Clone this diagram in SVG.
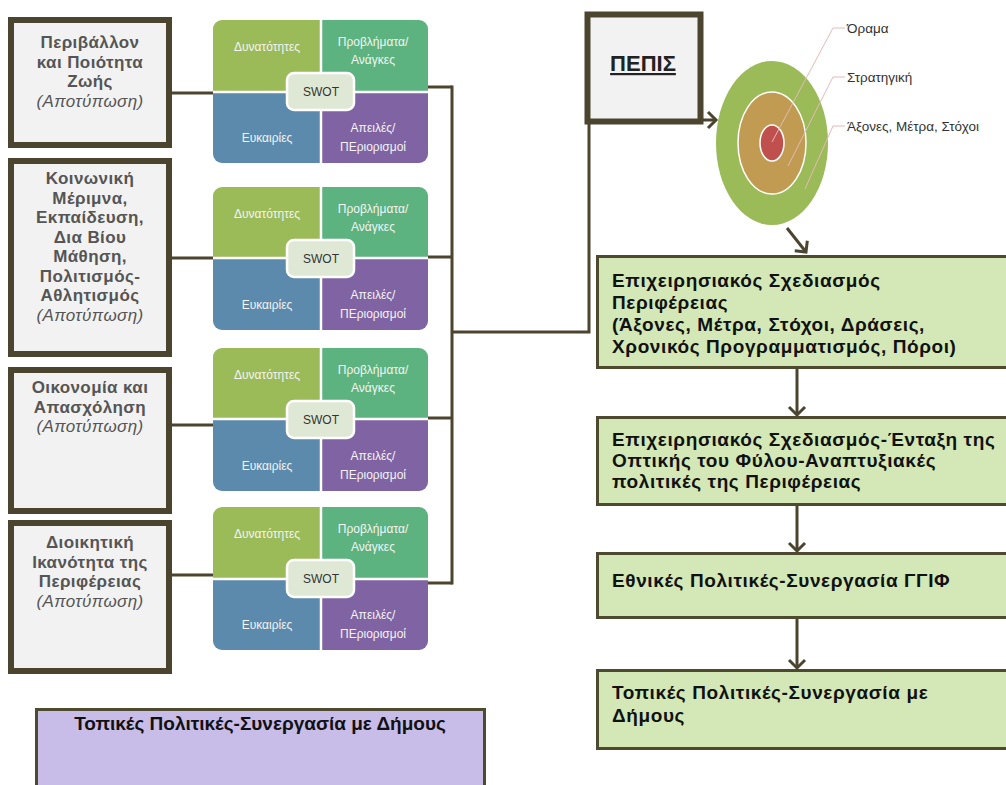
<svg xmlns="http://www.w3.org/2000/svg" width="1006" height="785" viewBox="0 0 1006 785">
<style>
.lbox{fill:#f2f2f2;stroke:#4b4530;stroke-width:6}
.lt{font-family:"Liberation Sans",Arial,sans-serif;font-size:17px;font-weight:bold;fill:#555;text-anchor:middle;letter-spacing:0.4px}
.lt .it{font-weight:normal;font-style:italic}
.con{fill:none;stroke:#4b4530;stroke-width:3}
.arr{fill:none;stroke:#4b4530;stroke-width:3;stroke-linejoin:miter}
.q1{fill:#9bbb59}.q2{fill:#5cb37f}.q3{fill:#5b8aac}.q4{fill:#8063a2}
.div{stroke:#fff;stroke-width:2.5}
.qt{font-family:"Liberation Sans",Arial,sans-serif;font-size:12px;fill:#f4f4f4;text-anchor:middle}
.sw{fill:#dfe8d4;stroke:#fff;stroke-width:2.5}
.swt{font-family:"Liberation Sans",Arial,sans-serif;font-size:12px;fill:#333;text-anchor:middle}
.gbox{fill:#d3e8b6;stroke:#4e4a30;stroke-width:3}
.gt{font-family:"Liberation Sans",Arial,sans-serif;font-size:19px;font-weight:bold;fill:#111;letter-spacing:0.6px}
.tl{font-family:"Liberation Sans",Arial,sans-serif;font-size:13.5px;fill:#333}
.lead{fill:none;stroke:#e6b9b8;stroke-width:1}
</style>
<defs>
<clipPath id="rc"><rect x="0" y="0" width="215" height="143" rx="9"/></clipPath>
<marker id="chev" markerWidth="20" markerHeight="20" refX="10" refY="10" orient="auto" markerUnits="userSpaceOnUse" viewBox="0 0 20 20">
<path d="M2,2 L10,10 L2,18" fill="none" stroke="#4b4530" stroke-width="3"/>
</marker>
</defs>

<g id="box-env">
<rect class="lbox" x="11" y="20" width="158" height="125"/>
<text class="lt"><tspan x="90" y="48">Περιβάλλον</tspan><tspan x="90" y="67.5">και Ποιότητα</tspan><tspan x="90" y="87">Ζωής</tspan><tspan class="it" x="90" y="106.5">(Αποτύπωση)</tspan></text>
</g>
<g id="box-social">
<rect class="lbox" x="11" y="161" width="158" height="193"/>
<text class="lt"><tspan x="90" y="184">Κοινωνική</tspan><tspan x="90" y="203.5">Μέριμνα,</tspan><tspan x="90" y="223">Εκπαίδευση,</tspan><tspan x="90" y="242.5">Δια Βίου</tspan><tspan x="90" y="262">Μάθηση,</tspan><tspan x="90" y="281.5">Πολιτισμός-</tspan><tspan x="90" y="301">Αθλητισμός</tspan><tspan class="it" x="90" y="320.5">(Αποτύπωση)</tspan></text>
</g>
<g id="box-econ">
<rect class="lbox" x="11" y="370" width="158" height="141"/>
<text class="lt"><tspan x="90" y="393">Οικονομία και</tspan><tspan x="90" y="412.5">Απασχόληση</tspan><tspan class="it" x="90" y="432">(Αποτύπωση)</tspan></text>
</g>
<g id="box-admin">
<rect class="lbox" x="11" y="523" width="158" height="148"/>
<text class="lt"><tspan x="90" y="548">Διοικητική</tspan><tspan x="90" y="567.5">Ικανότητα της</tspan><tspan x="90" y="587">Περιφέρειας</tspan><tspan class="it" x="90" y="606.5">(Αποτύπωση)</tspan></text>
</g>

<g id="swot-1" transform="translate(213,20)">
<g clip-path="url(#rc)"><rect class="q1" x="0" y="0" width="108" height="72"/><rect class="q2" x="108" y="0" width="107" height="72"/><rect class="q3" x="0" y="72" width="108" height="71"/><rect class="q4" x="108" y="72" width="107" height="71"/></g>
<line class="div" x1="108" y1="0" x2="108" y2="143"/><line class="div" x1="0" y1="72" x2="215" y2="72"/>
<text class="qt" x="54" y="31">Δυνατότητες</text><text class="qt"><tspan x="160" y="26">Προβλήματα/</tspan><tspan x="160" y="44">Ανάγκες</tspan></text>
<text class="qt" x="54" y="122">Ευκαιρίες</text><text class="qt"><tspan x="160" y="112">Απειλές/</tspan><tspan x="160" y="131">ΠΕριορισμοί</tspan></text>
<rect class="sw" x="74" y="53" width="67" height="37" rx="7"/><text class="swt" x="108" y="76">SWOT</text>
</g>
<g id="swot-2" transform="translate(213,187)">
<g clip-path="url(#rc)"><rect class="q1" x="0" y="0" width="108" height="71"/><rect class="q2" x="108" y="0" width="107" height="71"/><rect class="q3" x="0" y="71" width="108" height="72"/><rect class="q4" x="108" y="71" width="107" height="72"/></g>
<line class="div" x1="108" y1="0" x2="108" y2="143"/><line class="div" x1="0" y1="71" x2="215" y2="71"/>
<text class="qt" x="54" y="31">Δυνατότητες</text><text class="qt"><tspan x="160" y="26">Προβλήματα/</tspan><tspan x="160" y="44">Ανάγκες</tspan></text>
<text class="qt" x="54" y="122">Ευκαιρίες</text><text class="qt"><tspan x="160" y="112">Απειλές/</tspan><tspan x="160" y="131">ΠΕριορισμοί</tspan></text>
<rect class="sw" x="74" y="53" width="67" height="37" rx="7"/><text class="swt" x="108" y="76">SWOT</text>
</g>
<g id="swot-3" transform="translate(213,348)">
<g clip-path="url(#rc)"><rect class="q1" x="0" y="0" width="108" height="71"/><rect class="q2" x="108" y="0" width="107" height="71"/><rect class="q3" x="0" y="71" width="108" height="72"/><rect class="q4" x="108" y="71" width="107" height="72"/></g>
<line class="div" x1="108" y1="0" x2="108" y2="143"/><line class="div" x1="0" y1="71" x2="215" y2="71"/>
<text class="qt" x="54" y="31">Δυνατότητες</text><text class="qt"><tspan x="160" y="26">Προβλήματα/</tspan><tspan x="160" y="44">Ανάγκες</tspan></text>
<text class="qt" x="54" y="122">Ευκαιρίες</text><text class="qt"><tspan x="160" y="112">Απειλές/</tspan><tspan x="160" y="131">ΠΕριορισμοί</tspan></text>
<rect class="sw" x="74" y="53" width="67" height="37" rx="7"/><text class="swt" x="108" y="76">SWOT</text>
</g>
<g id="swot-4" transform="translate(213,507)">
<g clip-path="url(#rc)"><rect class="q1" x="0" y="0" width="108" height="72"/><rect class="q2" x="108" y="0" width="107" height="72"/><rect class="q3" x="0" y="72" width="108" height="71"/><rect class="q4" x="108" y="72" width="107" height="71"/></g>
<line class="div" x1="108" y1="0" x2="108" y2="143"/><line class="div" x1="0" y1="72" x2="215" y2="72"/>
<text class="qt" x="54" y="31">Δυνατότητες</text><text class="qt"><tspan x="160" y="26">Προβλήματα/</tspan><tspan x="160" y="44">Ανάγκες</tspan></text>
<text class="qt" x="54" y="122">Ευκαιρίες</text><text class="qt"><tspan x="160" y="112">Απειλές/</tspan><tspan x="160" y="131">ΠΕριορισμοί</tspan></text>
<rect class="sw" x="74" y="53" width="67" height="37" rx="7"/><text class="swt" x="108" y="76">SWOT</text>
</g>

<g id="pepis">
<rect class="lbox" x="587.5" y="14.5" width="113" height="107" stroke-width="5"/>
<text x="643" y="71" font-family="Liberation Sans,Arial,sans-serif" font-size="22" font-weight="bold" fill="#222" text-anchor="middle" text-decoration="underline">ΠΕΠΙΣ</text>
</g>

<g id="target">
<ellipse cx="772" cy="143" rx="56" ry="82" fill="#9bbb59"/>
<ellipse cx="772" cy="143" rx="34" ry="51" fill="#c19b51" stroke="#fff" stroke-width="1.5"/>
<ellipse cx="772" cy="143" rx="12" ry="18" fill="#c0504d" stroke="#fff" stroke-width="1.5"/>
<polyline class="lead" points="845,28 833,28 772,142"/>
<polyline class="lead" points="845,77 833,77 788,166"/>
<polyline class="lead" points="845,126 833,126 805,189"/>
<text class="tl" x="847" y="33">Όραμα</text>
<text class="tl" x="847" y="82">Στρατηγική</text>
<text class="tl" x="847" y="131">Άξονες, Μέτρα, Στόχοι</text>
</g>

<g id="op-plan">
<rect class="gbox" x="597.5" y="256.5" width="420" height="111"/>
<text class="gt"><tspan x="612" y="287">Επιχειρησιακός Σχεδιασμός</tspan><tspan x="612" y="309">Περιφέρειας</tspan><tspan x="612" y="331">(Άξονες, Μέτρα, Στόχοι, Δράσεις,</tspan><tspan x="612" y="353">Χρονικός Προγραμματισμός, Πόροι)</tspan></text>
</g>
<g id="gender">
<rect class="gbox" x="597.5" y="417.5" width="420" height="87"/>
<text class="gt"><tspan x="612" y="446">Επιχειρησιακός Σχεδιασμός-Ένταξη της</tspan><tspan x="612" y="467">Οπτικής του Φύλου-Αναπτυξιακές</tspan><tspan x="612" y="488">πολιτικές της Περιφέρειας</tspan></text>
</g>
<g id="national">
<rect class="gbox" x="597.5" y="553.5" width="420" height="64"/>
<text class="gt" x="612" y="587">Εθνικές Πολιτικές-Συνεργασία ΓΓΙΦ</text>
</g>
<g id="local">
<rect class="gbox" x="597.5" y="670.5" width="420" height="78"/>
<text class="gt"><tspan x="612" y="699">Τοπικές Πολιτικές-Συνεργασία με</tspan><tspan x="612" y="722">Δήμους</tspan></text>
</g>
<g id="local-purple">
<rect x="36.5" y="709.5" width="448" height="90" fill="#c8bce8" stroke="#4e4a30" stroke-width="3"/>
<text x="260" y="730" font-family="Liberation Sans,Arial,sans-serif" font-size="19" font-weight="bold" fill="#111" text-anchor="middle">Τοπικές Πολιτικές-Συνεργασία με Δήμους</text>
</g>

<g id="connectors">
<line class="con" x1="172" y1="93" x2="213" y2="93"/>
<line class="con" x1="172" y1="258" x2="213" y2="258"/>
<line class="con" x1="172" y1="425" x2="213" y2="425"/>
<line class="con" x1="172" y1="575" x2="213" y2="575"/>
<line class="con" x1="428" y1="87" x2="452" y2="87"/>
<line class="con" x1="428" y1="257" x2="452" y2="257"/>
<line class="con" x1="428" y1="418" x2="452" y2="418"/>
<line class="con" x1="428" y1="583" x2="452" y2="583"/>
<line class="con" x1="452" y1="85.5" x2="452" y2="584.5"/>
<polyline class="con" points="452,332 589,332 589,124"/>
<line class="arr" x1="703" y1="120" x2="716" y2="120" marker-end="url(#chev)"/>
<line class="arr" x1="787" y1="228" x2="806" y2="252" marker-end="url(#chev)"/>
<line class="arr" x1="797" y1="369" x2="797" y2="415" marker-end="url(#chev)"/>
<line class="arr" x1="797" y1="506" x2="797" y2="551" marker-end="url(#chev)"/>
<line class="arr" x1="797" y1="619" x2="797" y2="668" marker-end="url(#chev)"/>
</g>
</svg>
